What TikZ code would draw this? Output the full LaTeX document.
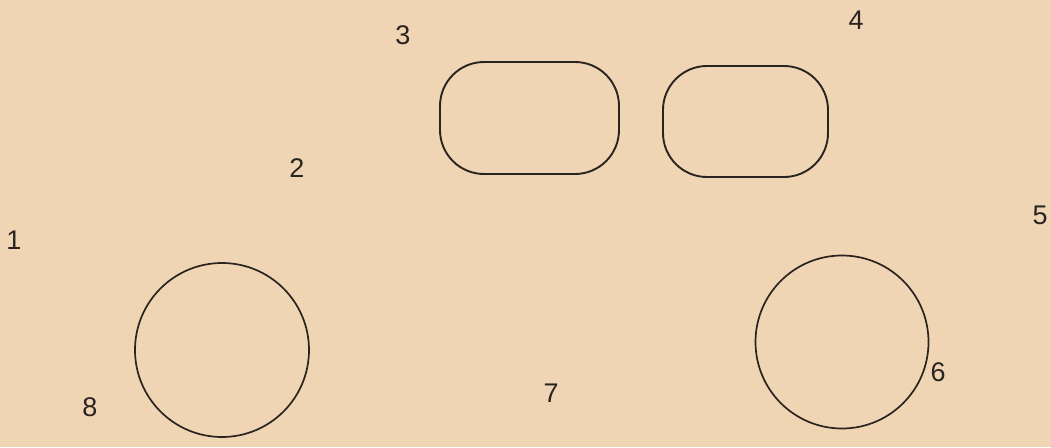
\documentclass[tikz,border=0pt]{standalone}
\usepackage{fontspec}
\setmainfont{Liberation Sans}
\definecolor{paper}{HTML}{F0D5B4}
\definecolor{ink}{HTML}{2A2420}
\begin{document}
\begin{tikzpicture}[x=1pt,y=-1pt,
  pill/.style={draw=ink,line width=1.9pt,rectangle,rounded corners=44pt,inner sep=0pt},
  ring/.style={draw=ink,line width=1.7pt,circle,inner sep=0pt,minimum size=174pt},
  num/.style={text=ink,font=\fontsize{27}{31}\selectfont,inner sep=0pt}]
\fill[paper] (0,0) rectangle (1051,447);
\useasboundingbox (0,0) rectangle (1051,447);
\node[pill,minimum width=179pt,minimum height=112pt] (r1) at (529.5,118) {};
\node[pill,minimum width=165pt,minimum height=111pt] (r2) at (745.5,121.5) {};
\node[ring] (c1) at (222,350) {};
\node[ring,minimum size=173pt] (c2) at (842,342) {};
\node[num] (n1) at (14,240) {1};
\node[num] (n2) at (297,168) {2};
\node[num] (n3) at (403,35) {3};
\node[num] (n4) at (856,20) {4};
\node[num] (n5) at (1040,215) {5};
\node[num] (n6) at (938,372) {6};
\node[num] (n7) at (551,393) {7};
\node[num] (n8) at (90,407) {8};
\end{tikzpicture}
\end{document}
